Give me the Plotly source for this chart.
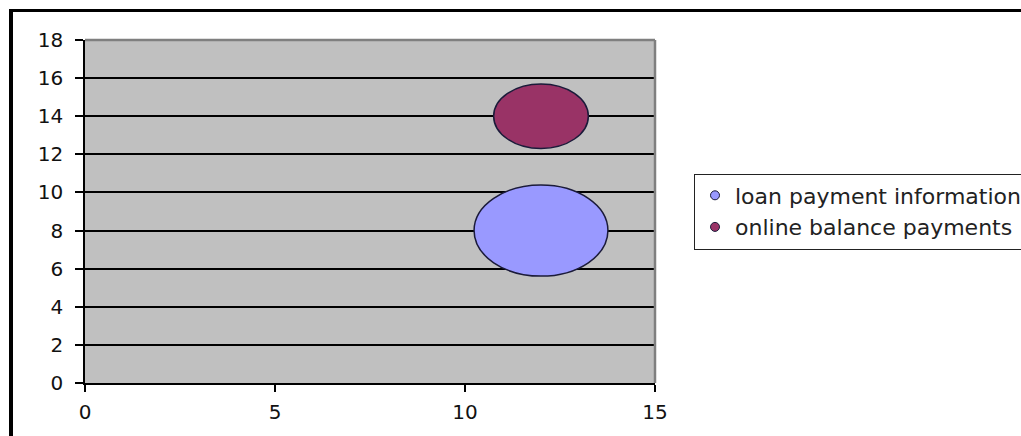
import plotly.graph_objects as go

# ---- data ----
series_names = ["loan payment information", "online balance payments"]
x_vals = [12, 12]
y_vals = [8, 14]
bubble_sizes = [10, 5]
x_ticks = [0, 5, 10, 15]
y_ticks = [0, 2, 4, 6, 8, 10, 12, 14, 16, 18]

# ---- style ----
fill_colors = ["#9999FF", "#993366"]
outline = "#1b1b3a"
W, H = 1021, 436
L, R, T, B = 85, 366, 40, 53
kx, ky = 0.557, 0.756  # radius per sqrt(size) in x / y data units

fig = go.Figure()
shapes = []
for name, x, y, s, c in zip(series_names, x_vals, y_vals, bubble_sizes, fill_colors):
    fig.add_trace(go.Scatter(
        x=[x], y=[y], mode="markers", name=name,
        marker=dict(size=9, color=c, line=dict(color=outline, width=1)),
        hoverinfo="skip",
    ))
    rx = kx * s ** 0.5
    ry = ky * s ** 0.5
    shapes.append(dict(type="circle", xref="x", yref="y",
                       x0=x - rx, x1=x + rx, y0=y - ry, y1=y + ry,
                       fillcolor=c, line=dict(color=outline, width=1.5),
                       layer="above"))

pw = W - L - R
ph = H - T - B
def px_x(p):
    return (p - L) / pw
def px_y(p):
    return (H - B - p) / ph

# plot area grey border (top / right)
shapes.append(dict(type="line", xref="paper", yref="paper", x0=0, x1=1, y0=1, y1=1,
                   line=dict(color="#7f7f7f", width=2.5), layer="above"))
shapes.append(dict(type="line", xref="paper", yref="paper", x0=1, x1=1, y0=0, y1=1,
                   line=dict(color="#7f7f7f", width=2.5), layer="above"))
# outer chart border (top / left)
shapes.append(dict(type="line", xref="paper", yref="paper",
                   x0=px_x(9), x1=px_x(1030), y0=px_y(10.5), y1=px_y(10.5),
                   line=dict(color="black", width=3), layer="above"))
shapes.append(dict(type="line", xref="paper", yref="paper",
                   x0=px_x(11), x1=px_x(11), y0=px_y(9), y1=px_y(440),
                   line=dict(color="black", width=4), layer="above"))

tickfont = dict(family="DejaVu Sans", size=20, color="#111111")
fig.update_layout(
    width=W, height=H,
    margin=dict(l=L, r=R, t=T, b=B, autoexpand=False),
    paper_bgcolor="white",
    plot_bgcolor="#C0C0C0",
    showlegend=True,
    legend=dict(x=px_x(694), xanchor="left", y=0.5, yanchor="middle",
                bgcolor="white", bordercolor="#222222", borderwidth=1,
                font=dict(family="DejaVu Sans", size=22, color="#222222"),
                itemwidth=30, tracegroupgap=0),
    shapes=shapes,
    xaxis=dict(range=[0, 15], tickvals=x_ticks, showgrid=False, zeroline=False,
               showline=True, linecolor="black", linewidth=1.5,
               ticks="outside", ticklen=7, tickcolor="black", tickwidth=1.5,
               ticklabelstandoff=3,
               tickfont=tickfont, fixedrange=True),
    yaxis=dict(range=[0, 18], tickvals=y_ticks, showgrid=True, gridcolor="black",
               gridwidth=1.5, zeroline=False,
               showline=True, linecolor="black", linewidth=1.5,
               ticks="outside", ticklen=8, tickcolor="black", tickwidth=1.5,
               ticklabelstandoff=8,
               tickfont=tickfont, fixedrange=True),
)

fig.write_html("out.html", config={"displayModeBar": False},
               post_script="document.body.style.margin='0';document.body.style.padding='0';")
